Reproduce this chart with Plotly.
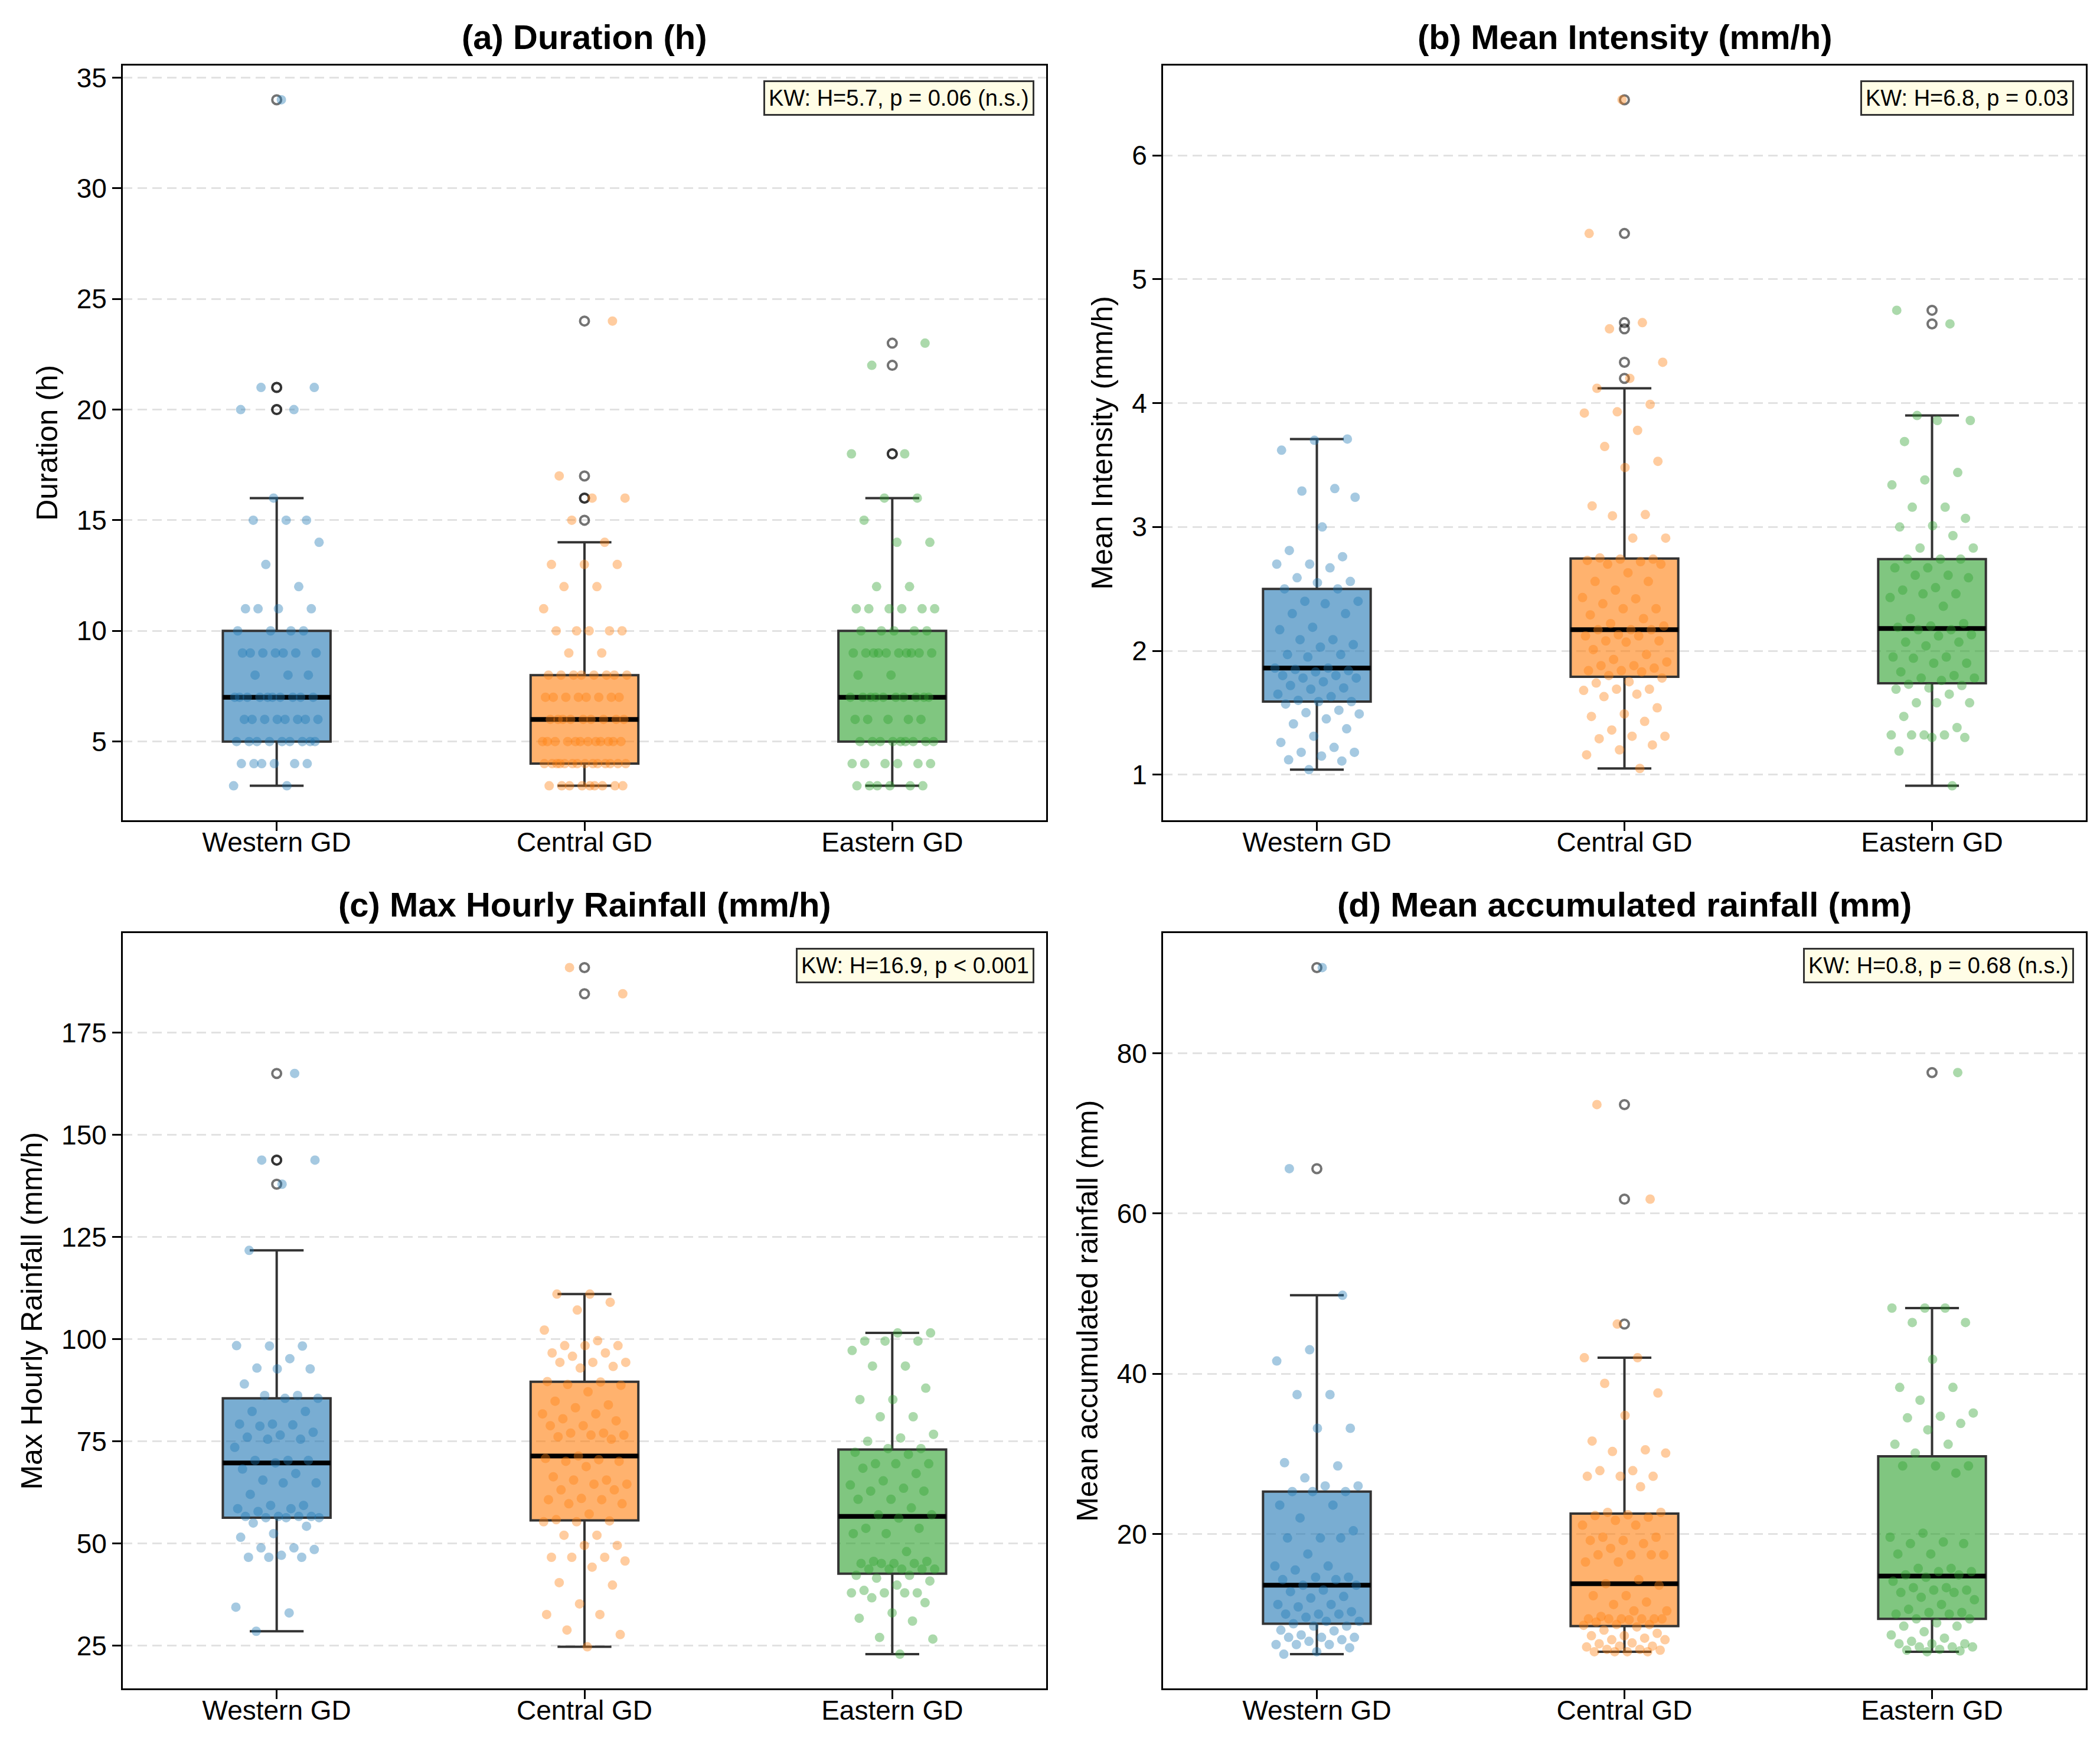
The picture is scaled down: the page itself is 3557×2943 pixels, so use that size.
import numpy as np
import plotly.graph_objects as go

# regions and colours (matplotlib tab10)
regions = ["Western GD", "Central GD", "Eastern GD"]
colors = ["#1f77b4", "#ff7f0e", "#2ca02c"]

# (a) event duration, hours
duration_western = [3, 3, 4, 4, 4, 4, 4, 4, 5, 5, 5, 5, 5, 5, 5, 5, 5, 6, 6, 6, 6, 6, 6, 6, 6,
                    7, 7, 7, 7, 7, 7, 7, 7, 7, 7, 8, 8, 8, 9, 9, 9, 9, 9, 9, 9, 10, 10, 10, 10,
                    11, 11, 11, 11, 12, 13, 14, 15, 15, 15, 16, 20, 20, 21, 21, 34]
duration_central = [3, 3, 3, 3, 3, 3, 3, 3, 3, 4, 4, 4, 4, 4, 4, 4, 4, 4, 4, 4, 4, 4, 4,
                    5, 5, 5, 5, 5, 5, 5, 5, 5, 5, 5, 5, 6, 6, 6, 6, 6, 6, 6, 6, 6,
                    7, 7, 7, 7, 7, 7, 7, 7, 8, 8, 8, 8, 8, 8, 8, 8, 9, 9, 10, 10, 10, 10, 10,
                    11, 12, 12, 13, 13, 13, 14, 15, 16, 16, 17, 24]
duration_eastern = [3, 3, 3, 3, 3, 3, 4, 4, 4, 4, 4, 4, 5, 5, 5, 5, 5, 5, 5, 5, 5, 6, 6, 6, 6, 6,
                    7, 7, 7, 7, 7, 7, 7, 7, 7, 7, 8, 8, 9, 9, 9, 9, 9, 9, 9, 9, 9, 9,
                    10, 10, 10, 10, 10, 11, 11, 11, 11, 11, 11, 12, 12, 14, 14, 15, 16, 16,
                    18, 18, 22, 23]

# (b) mean intensity, mm/h
intensity_western = [3.71, 3.70, 3.62, 3.31, 3.29, 3.24, 3.00, 2.81, 2.76, 2.70, 2.70, 2.67, 2.59,
                     2.56, 2.55, 2.50, 2.50, 2.40, 2.40, 2.38, 2.30, 2.30, 2.19, 2.17, 2.09, 2.09,
                     2.05, 2.03, 1.97, 1.97, 1.95, 1.86, 1.86, 1.85, 1.84, 1.83, 1.80, 1.80, 1.78,
                     1.78, 1.75, 1.72, 1.70, 1.69, 1.65, 1.63, 1.60, 1.59, 1.59, 1.57, 1.52, 1.50,
                     1.49, 1.45, 1.41, 1.37, 1.31, 1.26, 1.22, 1.18, 1.18, 1.15, 1.12, 1.11, 1.04]
intensity_central = [6.45, 5.37, 4.65, 4.60, 4.33, 4.20, 4.12, 3.99, 3.93, 3.92, 3.78, 3.65, 3.53,
                     3.48, 3.17, 3.10, 3.09, 2.91, 2.91, 2.75, 2.74, 2.74, 2.73, 2.72, 2.70, 2.70,
                     2.63, 2.56, 2.56, 2.49, 2.43, 2.42, 2.38, 2.34, 2.34, 2.29, 2.26, 2.22, 2.20,
                     2.17, 2.17, 2.17, 2.13, 2.12, 2.12, 2.08, 2.08, 2.07, 2.01, 1.97, 1.93, 1.91,
                     1.88, 1.88, 1.86, 1.84, 1.84, 1.83, 1.80, 1.78, 1.75, 1.74, 1.69, 1.69, 1.68,
                     1.65, 1.63, 1.54, 1.49, 1.47, 1.43, 1.36, 1.31, 1.31, 1.29, 1.24, 1.20, 1.16, 1.05]
intensity_eastern = [4.75, 4.64, 3.90, 3.86, 3.86, 3.69, 3.44, 3.38, 3.34, 3.16, 3.16, 3.07, 3.01,
                     3.00, 2.93, 2.83, 2.83, 2.74, 2.74, 2.74, 2.67, 2.67, 2.61, 2.61, 2.59, 2.51,
                     2.49, 2.46, 2.46, 2.43, 2.36, 2.26, 2.22, 2.20, 2.19, 2.17, 2.17, 2.13, 2.12,
                     2.07, 2.07, 2.04, 1.95, 1.95, 1.94, 1.90, 1.90, 1.83, 1.80, 1.78, 1.78, 1.76,
                     1.73, 1.72, 1.70, 1.69, 1.65, 1.58, 1.58, 1.58, 1.47, 1.38, 1.32, 1.32, 1.32,
                     1.32, 1.30, 1.30, 1.19, 0.91]

# (c) max hourly rainfall, mm/h
maxrain_western = [165.0, 143.8, 143.8, 137.9, 121.7, 98.3, 98.3, 98.4, 95.2, 92.9, 92.7, 92.7,
                   89.0, 86.2, 86.2, 85.5, 85.5, 82.3, 82.3, 79.2, 79.2, 79.0, 78.7, 77.2, 76.5,
                   76.0, 75.5, 75.5, 73.5, 70.3, 70.3, 70.3, 69.7, 68.2, 67.1, 65.5, 64.8, 64.8,
                   62.0, 59.3, 59.3, 58.5, 58.5, 57.8, 56.6, 56.6, 56.6, 56.6, 56.3, 56.3, 56.3,
                   55.0, 54.2, 52.4, 51.5, 48.9, 48.9, 48.5, 47.1, 46.6, 46.6, 46.6, 34.4, 33.0, 28.5]
maxrain_central = [190.9, 184.5, 111.0, 111.0, 109.0, 107.1, 102.2, 99.6, 98.4, 98.4, 98.4, 96.6,
                   96.6, 95.8, 94.3, 94.3, 94.3, 93.3, 92.9, 89.6, 89.5, 88.9, 88.7, 87.1, 84.8,
                   83.9, 83.2, 81.7, 81.7, 80.5, 80.0, 78.8, 78.8, 77.0, 77.0, 76.5, 76.5, 76.1,
                   75.5, 71.4, 70.8, 70.5, 70.1, 70.1, 68.8, 66.3, 65.5, 65.5, 64.5, 64.5, 63.1,
                   63.1, 61.0, 60.7, 60.7, 59.7, 59.7, 57.2, 55.8, 55.5, 55.3, 55.3, 52.0, 52.0,
                   49.5, 49.5, 46.6, 46.6, 46.6, 45.7, 44.2, 40.4, 39.8, 35.2, 32.6, 32.6, 28.8,
                   27.7, 24.7]
maxrain_eastern = [101.5, 101.5, 99.5, 99.5, 99.5, 97.2, 93.4, 93.4, 88.0, 85.2, 85.2, 81.0, 81.0,
                   76.7, 75.8, 75.0, 73.2, 73.2, 72.3, 71.8, 69.5, 69.5, 69.5, 68.4, 67.1, 65.3,
                   64.3, 63.5, 62.8, 62.8, 60.8, 60.8, 58.7, 57.0, 57.0, 56.2, 53.7, 53.7, 52.4,
                   52.4, 48.0, 45.6, 45.6, 45.1, 45.1, 45.1, 45.1, 43.7, 43.7, 43.7, 43.7, 43.7,
                   42.2, 42.2, 41.5, 40.8, 39.8, 38.5, 37.9, 37.9, 37.9, 37.9, 36.7, 35.5, 33.0,
                   31.7, 31.0, 27.0, 26.6, 22.9]

# (d) mean accumulated rainfall, mm
accum_western = [90.7, 65.6, 49.8, 43.0, 41.6, 37.4, 37.4, 33.2, 33.2, 28.9, 28.5, 27.0, 26.0, 26.0,
                 25.3, 25.3, 25.3, 23.6, 23.6, 22.0, 20.4, 19.5, 19.5, 19.5, 17.5, 16.0, 16.0, 15.5,
                 14.6, 14.6, 14.3, 14.3, 13.6, 13.6, 13.0, 12.8, 12.2, 12.0, 11.2, 11.2, 10.9, 10.3,
                 10.0, 10.0, 10.0, 9.6, 9.1, 9.1, 8.8, 8.5, 8.5, 8.0, 7.9, 7.4, 7.1, 7.1, 7.1, 6.8,
                 6.6, 6.2, 6.2, 6.2, 5.8, 5.3, 5.0]
accum_central = [73.6, 61.8, 46.2, 42.0, 42.0, 38.8, 37.6, 34.8, 31.6, 30.5, 30.3, 30.1, 27.9, 27.9,
                 27.2, 27.2, 27.2, 25.9, 22.7, 22.7, 22.4, 22.3, 22.1, 21.7, 21.1, 21.1, 19.6, 19.6,
                 19.2, 19.2, 18.8, 18.2, 17.4, 17.4, 17.4, 17.4, 16.5, 16.5, 14.3, 13.8, 13.6, 12.3,
                 12.3, 11.5, 11.2, 10.4, 10.4, 9.7, 9.4, 9.4, 9.4, 9.4, 9.4, 9.4, 9.3, 9.0, 8.7, 8.7,
                 8.6, 8.4, 8.0, 7.6, 7.3, 7.3, 7.0, 6.8, 6.8, 6.4, 6.3, 6.0, 6.0, 5.9, 5.6, 5.6, 5.5,
                 5.3, 5.3, 5.3, 5.3]
accum_eastern = [77.6, 48.2, 48.2, 48.2, 46.4, 46.4, 41.8, 38.3, 38.3, 36.7, 35.1, 34.7, 34.5, 33.8,
                 33.0, 31.2, 31.2, 30.1, 28.5, 28.5, 28.5, 27.6, 20.1, 19.6, 19.0, 18.8, 18.8, 17.5,
                 17.5, 15.7, 15.7, 15.3, 15.3, 14.9, 14.9, 14.6, 14.1, 13.3, 13.3, 13.0, 13.0, 12.7,
                 12.7, 12.1, 11.8, 11.2, 10.6, 10.2, 10.2, 10.0, 10.0, 9.4, 9.4, 8.9, 8.5, 8.5, 7.8,
                 7.4, 7.0, 6.6, 6.3, 6.3, 6.3, 5.9, 5.9, 5.9, 5.6, 5.5, 5.4, 5.3]

titles = ["(a) Duration (h)", "(b) Mean Intensity (mm/h)",
          "(c) Max Hourly Rainfall (mm/h)", "(d) Mean accumulated rainfall (mm)"]
ylabels = ["Duration (h)", "Mean Intensity (mm/h)",
           "Max Hourly Rainfall (mm/h)", "Mean accumulated rainfall (mm)"]
kw_texts = ["KW: H=5.7, p = 0.06 (n.s.)", "KW: H=6.8, p = 0.03",
            "KW: H=16.9, p < 0.001", "KW: H=0.8, p = 0.68 (n.s.)"]
ytick_steps = [5, 1, 25, 20]

panel_data = [
    [duration_western, duration_central, duration_eastern],
    [intensity_western, intensity_central, intensity_eastern],
    [maxrain_western, maxrain_central, maxrain_eastern],
    [accum_western, accum_central, accum_eastern],
]

FONT = "Liberation Sans, Arial, sans-serif"
W, H = 3557, 2943
# axes boxes in pixels (left, right) and (top, bottom)
xpix = [(200, 1764), (1962, 3525)]
ypix = [(98, 1378), (1570, 2851)]
xdom = [[l / W, r / W] for l, r in xpix]
ydom = [[1 - b / H, 1 - t / H] for t, b in ypix]

JITTER = 0.14
GOLDEN = 0.6180339887


def rgba(hexcol, a):
    h = hexcol.lstrip("#")
    r, g, b = int(h[0:2], 16), int(h[2:4], 16), int(h[4:6], 16)
    return f"rgba({r},{g},{b},{a})"


def spread(n, seed):
    # deterministic, evenly scattered horizontal offsets for the strip points
    k = np.arange(n) + seed
    return ((k * GOLDEN) % 1.0 - 0.5) * 2 * JITTER


def box_stats(vals):
    # matplotlib-style box statistics (linear percentiles, 1.5 IQR whiskers)
    v = np.asarray(vals, dtype=float)
    q1, med, q3 = np.percentile(v, [25, 50, 75])
    iqr = q3 - q1
    wlo = v[v >= q1 - 1.5 * iqr].min()
    whi = v[v <= q3 + 1.5 * iqr].max()
    fliers = v[(v < wlo) | (v > whi)]
    return q1, med, q3, wlo, whi, fliers


fig = go.Figure()
layout = {}
annotations = []

for i, groups in enumerate(panel_data):
    ax = "" if i == 0 else str(i + 1)
    xref, yref = "x" + ax, "y" + ax
    xd = xdom[i % 2]
    yd = ydom[i // 2]

    for k, (reg, vals, col) in enumerate(zip(regions, groups, colors)):
        q1, med, q3, wlo, whi, fliers = box_stats(vals)
        # box and whiskers
        fig.add_trace(go.Box(
            x=[k], q1=[q1], median=[med], q3=[q3], lowerfence=[wlo], upperfence=[whi],
            xaxis=xref, yaxis=yref, showlegend=False, name=reg, boxpoints=False,
            fillcolor=rgba(col, 0.6), line=dict(color="#333333", width=4),
            whiskerwidth=0.5,
        ))
        # thicker black median
        fig.add_trace(go.Box(
            x=[k], q1=[med], median=[med], q3=[med], lowerfence=[med], upperfence=[med],
            xaxis=xref, yaxis=yref, showlegend=False, boxpoints=False,
            fillcolor="rgba(0,0,0,0)", line=dict(color="black", width=8), whiskerwidth=0,
        ))
        # outliers as open circles on the box centre
        fig.add_trace(go.Scatter(
            x=[k] * len(fliers), y=fliers, mode="markers",
            xaxis=xref, yaxis=yref, showlegend=False,
            marker=dict(symbol="circle-open", size=15, color="rgba(0,0,0,0.55)",
                        line=dict(width=4)),
        ))
        # jittered samples
        fig.add_trace(go.Scatter(
            x=k + spread(len(vals), 3 * i + k), y=vals, mode="markers",
            xaxis=xref, yaxis=yref, showlegend=False,
            marker=dict(color=rgba(col, 0.4), size=16, line=dict(width=0)),
        ))

    allv = [v for g in groups for v in g]
    lo, hi = min(allv), max(allv)
    pad = 0.05 * (hi - lo)

    layout["xaxis" + ax] = dict(
        domain=xd, anchor=yref, range=[-0.5, 2.5],
        tickmode="array", tickvals=[0, 1, 2], ticktext=regions,
        showline=True, mirror=True, linecolor="black", linewidth=3,
        ticks="outside", ticklen=15, tickwidth=3, tickcolor="black",
        ticklabelstandoff=-20,
        tickfont=dict(size=46, color="black", family=FONT),
        showgrid=False, zeroline=False,
    )
    layout["yaxis" + ax] = dict(
        domain=yd, anchor=xref, range=[lo - pad, hi + pad],
        tickmode="linear", tick0=0, dtick=ytick_steps[i],
        showline=True, mirror=True, linecolor="black", linewidth=3,
        ticks="outside", ticklen=15, tickwidth=3, tickcolor="black",
        tickfont=dict(size=46, color="black", family=FONT),
        showgrid=True, gridcolor="#e2e2e2", gridwidth=3, griddash="16px,9px",
        zeroline=False,
        title=dict(text=ylabels[i], font=dict(size=50, color="black", family=FONT), standoff=17),
    )

    annotations.append(dict(
        text="<b>" + titles[i] + "</b>", xref="paper", yref="paper",
        x=(xd[0] + xd[1]) / 2, y=yd[1], xanchor="center", yanchor="bottom", yshift=14,
        showarrow=False, font=dict(size=58, color="black", family=FONT),
    ))
    annotations.append(dict(
        text=kw_texts[i], xref="paper", yref="paper",
        x=xd[1], y=yd[1], xanchor="right", yanchor="top", xshift=-20, yshift=-25,
        showarrow=False, font=dict(size=38, color="black", family=FONT),
        bgcolor="#fffde6", bordercolor="#333333", borderwidth=3, borderpad=6,
    ))

fig.update_layout(
    width=W, height=H, autosize=False,
    margin=dict(l=0, r=0, t=0, b=0),
    paper_bgcolor="white", plot_bgcolor="white",
    boxmode="overlay", boxgap=0.5,
    font=dict(family=FONT, color="black"),
    annotations=annotations,
    **layout,
)

fig.write_html("out.html")
